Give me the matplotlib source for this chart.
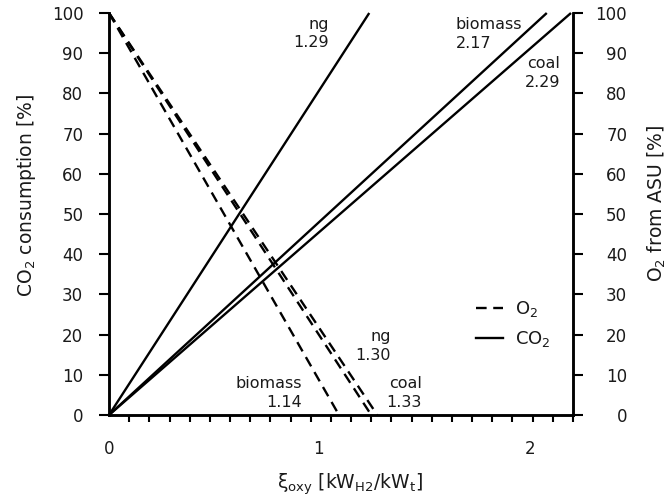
import matplotlib
matplotlib.use("Agg")
import matplotlib.pyplot as plt
from matplotlib.lines import Line2D
import numpy as np

# ---- data ----
fuels = ["ng", "biomass", "coal"]
co2_full_xi = [1.29, 2.17, 2.29]      # xi where CO2 consumption reaches 100 %
o2_zero_xi = [1.30, 1.14, 1.33]       # xi where O2 from ASU reaches 0 %
y_ticks = [0, 10, 20, 30, 40, 50, 60, 70, 80, 90, 100]
x_tick_labels = ["0", "1", "2"]

# ---- style ----
plt.rcParams['font.family'] = ['DejaVu Sans']
TXT = '#1a1a1a'
LW = 1.7

fig = plt.figure(figsize=(6.71, 4.97), dpi=100)
ax = fig.add_axes([109/671, 82/497, 464/671, 402/497])
ax2 = ax.twinx()

# CO2 lines (solid)
for xe in co2_full_xi:
    ax.plot([0, xe], [0, 100], color='black', lw=LW, solid_capstyle='butt', clip_on=False)
# O2 lines (dashed)
for xe in o2_zero_xi:
    ax2.plot([0, xe], [100, 0], color='black', lw=LW, dashes=(4.5, 2.8), clip_on=False)

for a in (ax, ax2):
    a.set_xlim(0, 2.3)
    a.set_ylim(0, 100)
    a.spines['top'].set_visible(False)
    for s in ('left', 'right', 'bottom'):
        a.spines[s].set_linewidth(1.8)

# x ticks: minor every 0.1, labels placed as in reference
ax.set_xticks(np.round(np.arange(0, 2.31, 0.1), 2), minor=True)
ax.set_xticks([0, 1.036, 2.087], labels=x_tick_labels)
ax.tick_params(axis='x', which='major', length=0, pad=18, labelsize=12, labelcolor=TXT)
ax.tick_params(axis='x', which='minor', length=5, width=1.5, direction='out')

ax.set_yticks(y_ticks, labels=[str(v) for v in y_ticks])
ax.tick_params(axis='y', length=7, width=1.5, direction='out', pad=11.5, labelsize=12, labelcolor=TXT)

ax2.set_yticks(y_ticks, labels=[str(v) for v in y_ticks], ha='right')
ax2.tick_params(axis='y', length=7, width=1.5, direction='out', pad=32, labelsize=12, labelcolor=TXT)

# annotations (y = baseline of the value line)
ann = [
    ("ng", co2_full_xi[0], 1.091, 91.5, 'right'),
    ("biomass", co2_full_xi[1], 1.720, 91.3, 'left'),
    ("coal", co2_full_xi[2], 2.236, 81.6, 'right'),
    ("ng", o2_zero_xi[0], 1.398, 13.7, 'right'),
    ("biomass", o2_zero_xi[1], 0.957, 2.0, 'right'),
    ("coal", o2_zero_xi[2], 1.552, 2.0, 'right'),
]
for name, val, x, y, ha in ann:
    ax.text(x, y, f"{name}\n{val:.2f}", ha=ha, va='baseline', multialignment=ha,
            fontsize=11.5, color=TXT, linespacing=1.3)

# axis labels
fig.text(27/671, 1 - 195/497, r"CO$_2$ consumption [%]", rotation=90,
         ha='center', va='center', fontsize=13.5, color=TXT)
fig.text(657/671, 1 - 203/497, r"O$_2$ from ASU [%]", rotation=90,
         ha='center', va='center', fontsize=13.5, color=TXT)
fig.text(350/671, 1 - 484/497, r"ξ$_{\mathrm{oxy}}$ [kW$_{\mathrm{H2}}$/kW$_{\mathrm{t}}$]",
         ha='center', va='center', fontsize=13.5, color=TXT)

# legend
handles = [Line2D([], [], color='black', lw=LW, dashes=(4.5, 2.8)),
           Line2D([], [], color='black', lw=LW)]
ax2.legend(handles, [r"O$_2$", r"CO$_2$"], loc='upper left',
           bbox_to_anchor=((476-109)/464, (415-299)/402), frameon=False,
           borderpad=0, borderaxespad=0, handlelength=1.5, handletextpad=0.66,
           labelspacing=0.55, fontsize=13, labelcolor=TXT)

fig.savefig("out.png", dpi=100)
